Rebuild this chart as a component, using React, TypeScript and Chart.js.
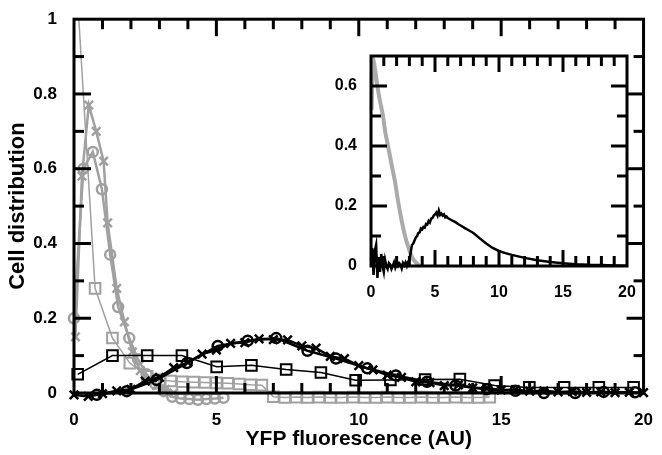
import React, { useEffect, useRef } from "react";
import { Chart, registerables } from "chart.js";

Chart.register(...registerables);

// ---------- main plot data ----------
const greySqX = [0.13, 0.74, 1.35, 1.96, 2.57, 3.0, 3.4, 3.8, 4.2, 4.6, 5.0, 5.4, 5.8, 6.2, 6.6, 7.0, 7.4, 7.8, 8.2, 8.6, 9.0, 9.4, 9.8, 10.2, 10.6, 11.0, 11.4, 11.8, 12.2, 12.6, 13.0, 13.4, 13.8, 14.2, 14.6];
const greySqY = [1.05, 0.28, 0.147, 0.08, 0.045, 0.035, 0.032, 0.03, 0.029, 0.028, 0.027, 0.026, 0.024, 0.022, 0.021, -0.01, -0.012, -0.011, -0.012, -0.011, -0.012, -0.012, -0.011, -0.012, -0.012, -0.011, -0.012, -0.012, -0.011, -0.012, -0.012, -0.011, -0.012, -0.012, -0.011];

const greyCircX = [0.0, 0.33, 0.66, 0.98, 1.27, 1.55, 1.94, 2.25, 2.55, 2.85, 3.15, 3.45, 3.75, 4.05, 4.35, 4.65, 4.95, 5.25];
const greyCircY = [0.2, 0.6, 0.645, 0.545, 0.37, 0.23, 0.147, 0.09, 0.05, 0.025, 0.005, -0.01, -0.015, -0.016, -0.018, -0.016, -0.015, -0.013];

const greyCrossX = [0.05, 0.28, 0.52, 0.78, 1.04, 1.18, 1.5, 1.77, 2.05, 2.33, 2.6, 2.9, 3.2, 3.5];
const greyCrossY = [0.15, 0.58, 0.77, 0.7, 0.62, 0.455, 0.28, 0.19, 0.11, 0.06, 0.035, 0.02, 0.01, 0.0];

const blackSqX = [0.13, 1.35, 2.57, 3.79, 5.01, 6.23, 7.45, 8.67, 9.89, 11.11, 12.33, 13.55, 14.77, 15.99, 17.21, 18.43, 19.65];
const blackSqY = [0.05, 0.1, 0.1, 0.1, 0.07, 0.074, 0.063, 0.055, 0.034, 0.035, 0.036, 0.037, 0.02, 0.015, 0.015, 0.015, 0.015];

const blackCircX = [0.8, 1.85, 2.9, 3.96, 5.05, 6.1, 7.1, 8.2, 9.2, 10.3, 11.3, 12.4, 13.4, 14.5, 15.5, 16.5, 17.6, 18.6, 19.7];
const blackCircY = [-0.005, 0.005, 0.035, 0.08, 0.126, 0.14, 0.147, 0.113, 0.092, 0.066, 0.047, 0.03, 0.02, 0.01, 0.006, 0.0, 0.0, 0.003, 0.002];

const blackCrossX = [0, 0.5, 1.0, 1.5, 2.0, 2.5, 3.0, 3.5, 4.0, 4.5, 5.0, 5.5, 6.0, 6.5, 7.0, 7.5, 8.0, 8.5, 9.0, 9.5, 10.0, 10.5, 11.0, 11.5, 12.0, 12.5, 13.0, 13.5, 14.0, 14.5, 15.0, 15.5, 16.0, 16.5, 17.0, 17.5, 18.0, 18.5, 19.0, 19.5, 20.0];
const blackCrossY = [-0.005, -0.009, -0.002, 0.006, 0.01, 0.032, 0.042, 0.068, 0.082, 0.104, 0.115, 0.133, 0.135, 0.145, 0.143, 0.142, 0.126, 0.12, 0.098, 0.092, 0.073, 0.062, 0.048, 0.042, 0.03, 0.028, 0.02, 0.022, 0.014, 0.013, 0.008, 0.009, 0.005, 0.006, 0.003, 0.004, 0.002, 0.003, 0.001, 0.002, 0.001];

// ---------- inset data ----------
const insetGreyX = [0.05, 0.16, 0.3, 0.5, 0.7, 0.94, 1.1, 1.33, 1.6, 1.88, 2.1, 2.4, 2.66, 2.9, 3.1, 3.3, 3.6, 3.8];
const insetGreyY = [0.52, 0.69, 0.66, 0.6, 0.55, 0.5, 0.45, 0.4, 0.34, 0.28, 0.22, 0.15, 0.1, 0.065, 0.04, 0.022, 0.008, 0.0];

const insetBlackX = [0, 0.1, 0.2, 0.3, 0.4, 0.5, 0.6, 0.7, 0.8, 0.9, 1.0, 1.1, 1.2, 1.3, 1.4, 1.5, 1.6, 1.7, 1.8, 1.9, 2.0, 2.1, 2.2, 2.3, 2.4, 2.5, 2.6, 2.7, 2.8, 2.9, 3.0, 3.1, 3.2, 3.3, 3.4, 3.5, 3.6, 3.7, 3.8, 3.9, 4.0, 4.1, 4.2, 4.3, 4.4, 4.5, 4.6, 4.7, 4.8, 4.9, 5.0, 5.1, 5.2, 5.3, 5.4, 5.5, 5.6, 5.7, 5.8, 5.9, 6.0, 6.2, 6.4, 6.6, 6.8, 7.0, 7.3, 7.6, 8.0, 8.5, 9.0, 9.5, 10.0, 10.5, 11.0, 11.5, 12.0, 13.0, 14.0, 15.0, 16.0, 17.0, 18.0, 19.0, 20.0];
const insetBlackY = [0.02, 0.06, -0.03, 0.05, 0.07, -0.04, 0.03, -0.02, 0.04, 0.0, -0.02, 0.02, 0.0, -0.01, 0.01, 0.005, -0.01, 0.0, 0.012, -0.005, 0.008, 0.0, 0.01, 0.005, -0.008, 0.01, 0.002, 0.012, 0.0, 0.015, 0.02, 0.045, 0.07, 0.075, 0.085, 0.095, 0.1, 0.11, 0.112, 0.125, 0.122, 0.13, 0.128, 0.14, 0.138, 0.15, 0.145, 0.158, 0.16, 0.168, 0.172, 0.178, 0.168, 0.185, 0.17, 0.175, 0.168, 0.172, 0.162, 0.165, 0.16, 0.155, 0.15, 0.146, 0.14, 0.135, 0.127, 0.12, 0.11, 0.092, 0.075, 0.06, 0.05, 0.043, 0.037, 0.032, 0.027, 0.019, 0.013, 0.009, 0.006, 0.004, 0.003, 0.002, 0.001];

const xTickLabels = ["0", "5", "10", "15", "20"];
const mainYTickLabels = ["0", "0.2", "0.4", "0.6", "0.8", "1"];
const insetYTickLabels = ["0", "0.2", "0.4", "0.6"];

const GREY = "#a0a0a0";
const FONT = "'Liberation Sans', Arial, sans-serif";

const pts = (xs: number[], ys: number[]) => xs.map((x, i) => ({ x, y: ys[i] }));

const frameTicks = {
  id: "frameTicks",
  beforeDraw(chart: any, _a: any, opts: any) {
    if (!opts.fill) return;
    const { ctx, chartArea: a } = chart;
    ctx.save();
    ctx.fillStyle = "#fff";
    ctx.fillRect(a.left, a.top, a.right - a.left, a.bottom - a.top);
    ctx.restore();
  },
  afterDraw(chart: any, _a: any, opts: any) {
    const { ctx, chartArea: a, scales } = chart;
    const x = scales.x, y = scales.y;
    ctx.save();
    ctx.strokeStyle = "#000";
    ctx.lineWidth = opts.lw;
    ctx.lineCap = "butt";
    const line = (x1: number, y1: number, x2: number, y2: number) => {
      ctx.beginPath(); ctx.moveTo(x1, y1); ctx.lineTo(x2, y2); ctx.stroke();
    };
    const nx = Math.round((x.max - x.min) / opts.xStep);
    for (let i = 1; i < nx; i++) {
      const px = x.getPixelForValue(x.min + i * opts.xStep);
      const len = i % opts.xEvery === 0 ? opts.majorLen : opts.minorLen;
      line(px, a.bottom, px, a.bottom - len);
      line(px, a.top, px, a.top + len);
    }
    const ny = Math.round((y.max - y.min) / opts.yStep);
    for (let i = 1; i < ny; i++) {
      const py = y.getPixelForValue(y.min + i * opts.yStep);
      const len = i % opts.yEvery === 0 ? opts.majorLen : opts.minorLen;
      line(a.left, py, a.left + len, py);
      line(a.right, py, a.right - len, py);
    }
    ctx.strokeRect(a.left, a.top, a.right - a.left, a.bottom - a.top);
    ctx.restore();
  },
};

const CLIP = { left: 12, top: 0, right: 12, bottom: 14 };

function MainChart() {
  const ref = useRef<HTMLCanvasElement>(null);
  useEffect(() => {
    const ds = (data: any, color: string, style: string, r: number, lw: number, bw: number) => ({
      data, borderColor: color, backgroundColor: "rgba(0,0,0,0)", pointStyle: style,
      pointRadius: r, pointBorderWidth: bw, pointBorderColor: color, pointBackgroundColor: "rgba(0,0,0,0)",
      borderWidth: lw, tension: 0, clip: CLIP, showLine: true,
    });
    const chart = new Chart(ref.current!, {
      type: "scatter",
      data: {
        datasets: [
          ds(pts(blackCrossX, blackCrossY), "#000", "crossRot", 6, 2.5, 2.5),
          ds(pts(blackCircX, blackCircY), "#000", "circle", 5, 2.5, 2.5),
          ds(pts(blackSqX, blackSqY), "#000", "rect", 7.5, 1.5, 2),
          ds(pts(greyCrossX, greyCrossY), GREY, "crossRot", 6, 2.5, 2.5),
          ds(pts(greyCircX, greyCircY), GREY, "circle", 5, 2.5, 2.5),
          ds(pts(greySqX, greySqY), GREY, "rect", 7.5, 1.5, 2),
        ] as any,
      },
      options: {
        animation: false, responsive: false, events: [],
        layout: { padding: { left: 0, right: 12, top: 14, bottom: 0 } },
        plugins: {
          legend: { display: false }, tooltip: { enabled: false },
          frameTicks: { lw: 3, xStep: 1, xEvery: 5, yStep: 0.1, yEvery: 2, minorLen: 10, majorLen: 17 },
        } as any,
        scales: {
          x: {
            type: "linear", min: 0, max: 20,
            grid: { display: false }, border: { display: false },
            ticks: { stepSize: 5, color: "#000", padding: 9, font: { family: FONT, size: 17, weight: "bold" },
              callback: (v: any) => xTickLabels[Math.round(v / 5)] ?? "" },
            title: { display: true, text: "YFP fluorescence (AU)", color: "#000", padding: { top: 0, bottom: 3 },
              font: { family: FONT, size: 21, weight: "bold" } },
            afterFit: (s: any) => { s.height = 62; },
          },
          y: {
            min: 0, max: 1,
            grid: { display: false }, border: { display: false },
            ticks: { stepSize: 0.2, color: "#000", padding: 9, font: { family: FONT, size: 17, weight: "bold" },
              callback: (v: any) => mainYTickLabels[Math.round(v * 5)] ?? "" },
            title: { display: true, text: "Cell distribution", color: "#000", padding: { top: 5, bottom: 0 },
              font: { family: FONT, size: 22, weight: "bold" } },
            afterFit: (s: any) => { s.width = 74; },
          },
        } as any,
      },
      plugins: [frameTicks],
    });
    return () => chart.destroy();
  }, []);
  return <canvas ref={ref} width={662} height={455} style={{ position: "absolute", left: 0, top: 0, width: 662, height: 455 }} />;
}

function InsetChart() {
  const ref = useRef<HTMLCanvasElement>(null);
  useEffect(() => {
    const chart = new Chart(ref.current!, {
      type: "scatter",
      data: {
        datasets: [
          { data: pts(insetBlackX, insetBlackY), borderColor: "#000", borderWidth: 2.5, pointRadius: 0, showLine: true, clip: false, tension: 0 },
          { data: pts(insetGreyX, insetGreyY), borderColor: "#aaaaaa", borderWidth: 4, pointRadius: 0, showLine: true, clip: false, tension: 0.2 },
        ] as any,
      },
      options: {
        animation: false, responsive: false, events: [],
        layout: { padding: { left: 0, right: 21, top: 16, bottom: 0 } },
        plugins: {
          legend: { display: false }, tooltip: { enabled: false },
          frameTicks: { fill: true, lw: 3, xStep: 1, xEvery: 5, yStep: 0.1, yEvery: 2, minorLen: 10, majorLen: 16 },
        } as any,
        scales: {
          x: {
            type: "linear", min: 0, max: 20,
            grid: { display: false }, border: { display: false },
            ticks: { stepSize: 5, color: "#000", padding: 9, font: { family: FONT, size: 16, weight: "bold" },
              callback: (v: any) => xTickLabels[Math.round(v / 5)] ?? "" },
            afterFit: (s: any) => { s.height = 39; },
          },
          y: {
            min: 0, max: 0.7,
            grid: { display: false }, border: { display: false },
            ticks: { stepSize: 0.2, color: "#000", padding: 6, font: { family: FONT, size: 16, weight: "bold" },
              callback: (v: any) => insetYTickLabels[Math.round(v * 5)] ?? "" },
            afterFit: (s: any) => { s.width = 41; },
          },
        } as any,
      },
      plugins: [frameTicks],
    });
    return () => chart.destroy();
  }, []);
  return <canvas ref={ref} width={318} height={265} style={{ position: "absolute", left: 330, top: 40, width: 318, height: 265 }} />;
}

export default function App() {
  return (
    <div style={{ position: "fixed", left: 0, top: 0, width: 662, height: 455, background: "#fff", overflow: "hidden" }}>
      <MainChart />
      <InsetChart />
    </div>
  );
}
